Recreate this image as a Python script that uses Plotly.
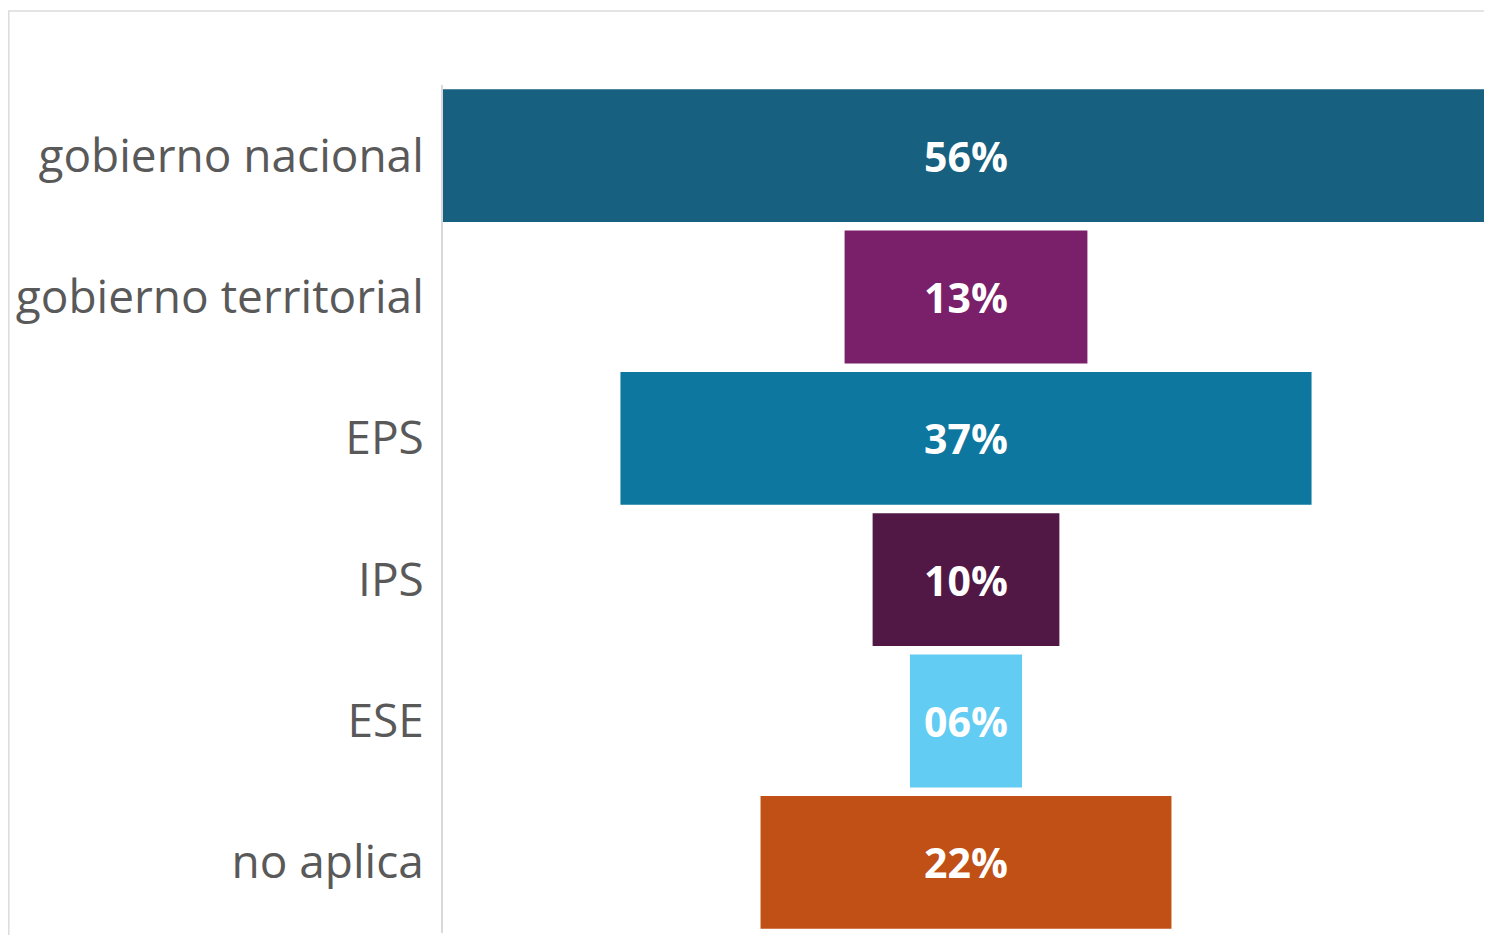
import plotly.graph_objects as go

# categories and shares (percent)
categories = ["gobierno nacional", "gobierno territorial", "EPS", "IPS", "ESE", "no aplica"]
values = [56, 13, 37, 10, 6, 22]
labels = ["56%", "13%", "37%", "10%", "06%", "22%"]
colors = ["#17607f", "#7a1f6a", "#0d77a0", "#511846", "#63ccf3", "#c05016"]

fig = go.Figure(go.Funnel(
    y=categories,
    x=values,
    text=labels,
    textinfo="text",
    textposition="inside",
    insidetextanchor="middle",
    textfont=dict(family="Open Sans", size=41, color="white", weight="bold"),
    marker=dict(color=colors, line=dict(width=0)),
    connector=dict(visible=False),
    constraintext="none",
))

fig.update_layout(
    width=1484,
    height=927,
    paper_bgcolor="white",
    plot_bgcolor="white",
    margin=dict(l=435, r=3, t=77, b=2),
    funnelgap=0.06,
    showlegend=False,
    font=dict(family="Open Sans"),
    xaxis=dict(visible=False, range=[-28, 28], fixedrange=True),
    yaxis=dict(
        showline=True, linecolor="#d9d9d9", linewidth=2,
        tickfont=dict(family="Open Sans", size=46, color="#595959"),
        ticks="", ticklabelstandoff=8, showgrid=False,
    ),
    shapes=[dict(
        type="rect", xref="paper", yref="paper",
        x0=-0.4151, x1=1.02, y0=-0.05, y1=1.0873,
        line=dict(color="#dcdcdc", width=1.5), layer="below",
    )],
)

fig.write_html("out.html")
